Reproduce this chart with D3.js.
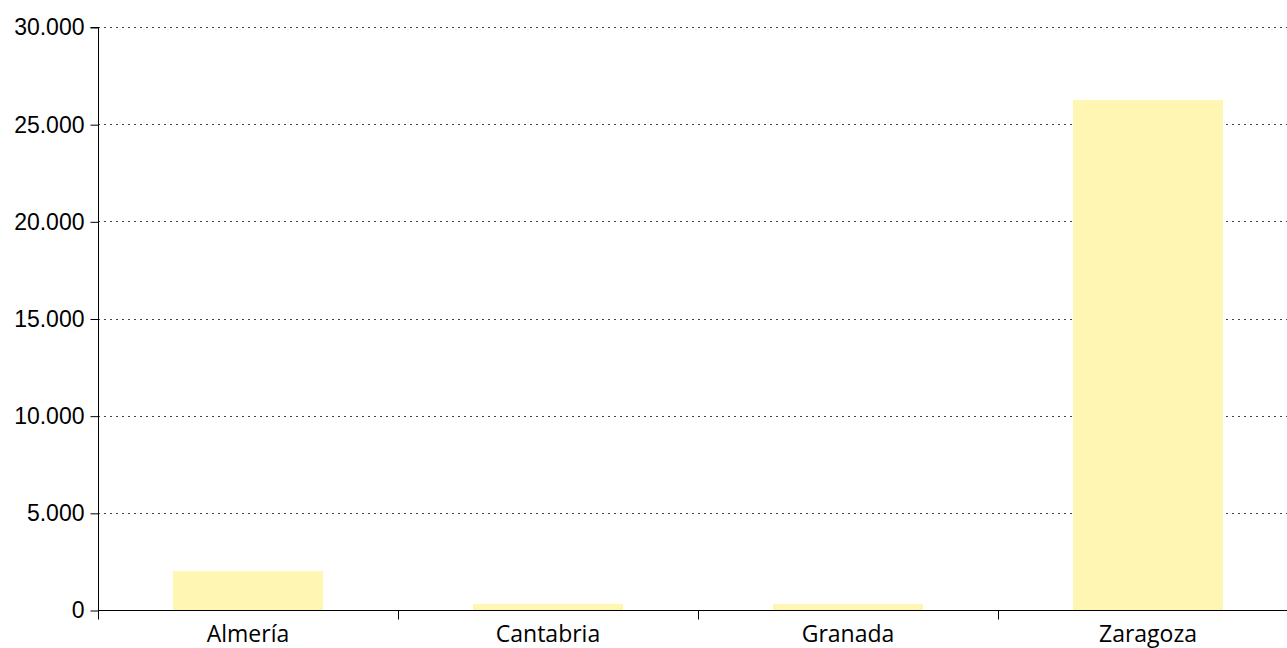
<!DOCTYPE html>
<html lang="es">
<head>
  <meta charset="UTF-8" />
  <title>Bar chart</title>
  <script src="https://d3js.org/d3.v7.min.js"></script>
  <style>
    body { margin: 0; background: #fff; }
    svg { display: block; font-family: "Open Sans", sans-serif; }
    .tick text { font-size: 23px; fill: #000; }
    .grid line { stroke: #444; stroke-dasharray: 2,4; }
  </style>
</head>
<body>
  <svg width="1287" height="648"></svg>
  <script>
    // data
    const provincias = ["Almería", "Cantabria", "Granada", "Zaragoza"];
    const valores = [2000, 320, 300, 26250];
    const yTicks = [0, 5000, 10000, 15000, 20000, 25000, 30000];

    const svg = d3.select("svg");
    const margin = { left: 98, top: 27, bottom: 38 };
    const height = 648;

    const x = d3.scaleBand()
      .domain(provincias)
      .range([margin.left, margin.left + 1200])
      .paddingInner(0.5)
      .paddingOuter(0.25);

    const y = d3.scaleLinear()
      .domain([0, 30000])
      .range([height - margin.bottom, margin.top]);

    const fmt = d => d3.format(",")(d).replace(/,/g, ".");

    // dotted gridlines
    svg.append("g")
      .attr("class", "grid")
      .selectAll("line")
      .data(yTicks)
      .join("line")
      .attr("x1", margin.left)
      .attr("x2", 1287)
      .attr("y1", d => Math.round(y(d)) + 0.5)
      .attr("y2", d => Math.round(y(d)) + 0.5);

    // bars
    svg.append("g")
      .selectAll("rect")
      .data(provincias)
      .join("rect")
      .attr("x", d => x(d))
      .attr("width", x.bandwidth())
      .attr("y", (d, i) => y(valores[i]))
      .attr("height", (d, i) => y(0) - y(valores[i]))
      .attr("fill", "#fff6b4");

    // y axis
    const yAxis = svg.append("g")
      .attr("transform", `translate(${margin.left + 0.5},0.5)`)
      .call(d3.axisLeft(y).tickValues(yTicks).tickFormat(fmt).tickSize(8).tickPadding(6));
    yAxis.select(".domain").attr("d", `M-8,${Math.round(y(30000))}H0V${Math.round(y(0))}`);

    // x axis, ticks at band boundaries
    const xAxis = svg.append("g")
      .attr("transform", `translate(0,${Math.round(y(0)) + 0.5})`);
    xAxis.append("line")
      .attr("x1", margin.left).attr("x2", 1287)
      .attr("stroke", "#000");
    xAxis.selectAll("line.t")
      .data(d3.range(provincias.length))
      .join("line")
      .attr("class", "t")
      .attr("x1", i => margin.left + 300 * i + 0.5)
      .attr("x2", i => margin.left + 300 * i + 0.5)
      .attr("y1", 0).attr("y2", 9)
      .attr("stroke", "#000");
    xAxis.selectAll("text")
      .data(provincias)
      .join("text")
      .attr("x", d => x(d) + x.bandwidth() / 2)
      .attr("y", 31)
      .attr("text-anchor", "middle")
      .attr("font-size", 23)
      .attr("fill", "#000")
      .text(d => d);
  </script>
</body>
</html>
